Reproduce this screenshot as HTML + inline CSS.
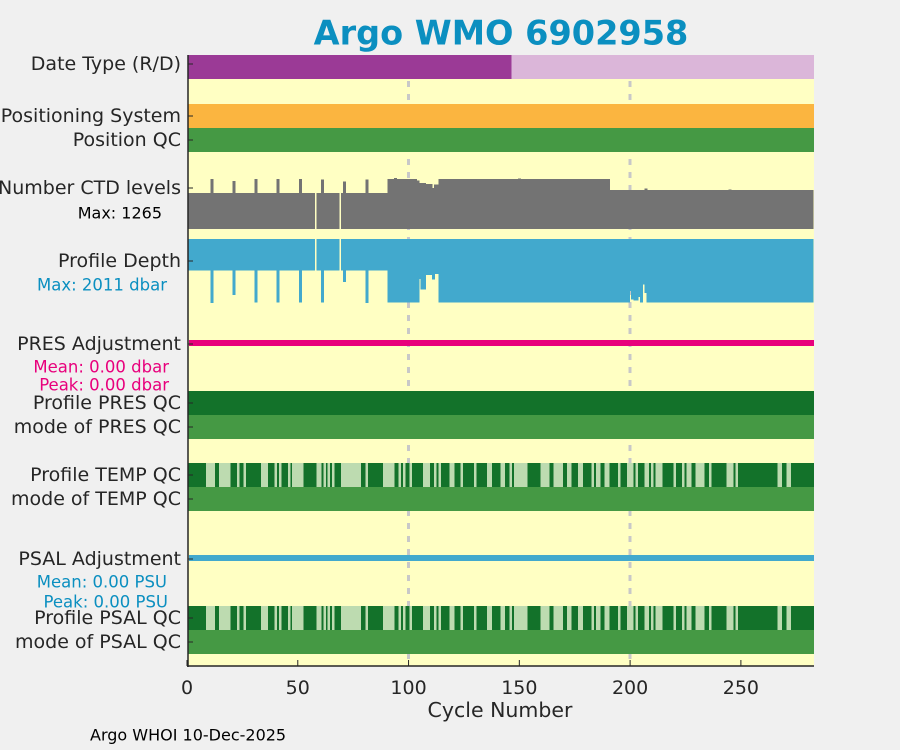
<!DOCTYPE html>
<html><head><meta charset="utf-8"><style>
body{margin:0;background:#f0f0f0;}
svg{display:block;font-family:"DejaVu Sans","Liberation Sans",sans-serif;}
</style></head><body>
<svg id="chart" width="900" height="750">
<rect x="0" y="0" width="900" height="750" fill="#f0f0f0"/>
<rect x="188" y="55" width="626" height="611" fill="#ffffc3"/>
<g id="marks" shape-rendering="crispEdges"></g>
<g id="labels"></g>
</svg>
<script>
const nCycles = 282;
const xTicks = [0, 50, 100, 150, 200, 250];
const dateTypeSwitch = 146.5;
const ctdMax = 1265;
const depthMax = 2011;
const ctdRuns = [[1,57,870],[58,58,0],[59,68,870],[69,69,0],[70,90,870],[91,103,1215],[104,104,1180],[105,107,1120],[108,110,1090],[111,111,1000],[112,113,1080],[114,190,1215],[191,282,950]];
const ctdSpikes = [[11,1216],[21,1170],[31,1216],[41,1216],[51,1216],[61,1210],[71,1150],[81,1210],[94,1240],[150,1230],[207,980],[245,960]];
const depthRuns = [[1,57,985],[58,58,0],[59,68,985],[69,69,0],[70,90,985],[91,104,1990],[105,105,1250],[106,107,1580],[108,110,1130],[111,111,1270],[112,113,1100],[114,199,1990],[200,200,1640],[201,201,1900],[202,203,1930],[204,204,1830],[205,205,1990],[206,206,1430],[207,207,1690],[208,282,1990]];
const depthSpikes = [[11,2011],[21,1760],[31,1990],[41,1990],[51,1990],[61,1990],[71,1350],[81,2011]];
const tempLight = [9,10,11,12,15,16,17,18,19,23,26,34,35,36,40,42,46,48,49,50,51,52,59,60,62,64,66,70,71,72,73,74,75,76,77,78,81,89,90,91,92,93,96,98,101,107,108,109,112,114,119,120,124,130,136,137,142,143,146,148,149,150,151,152,153,160,161,162,163,166,167,168,169,172,173,177,178,183,185,186,189,190,195,199,200,201,203,207,208,210,212,213,214,220,224,226,227,230,231,232,233,236,244,245,246,248,267,268,271,272];
const psalLight = tempLight.slice();

const X0=187, X1=814, C1=283;
function xs(c){return X0+(c)*(X1-X0)/C1;}
const NS='http://www.w3.org/2000/svg';
const marks=document.getElementById('marks');
const labels=document.getElementById('labels');
function rect(g,x,y,w,h,fill,name){const r=document.createElementNS(NS,'rect');r.setAttribute('x',x);r.setAttribute('y',y);r.setAttribute('width',w);r.setAttribute('height',h);r.setAttribute('fill',fill);


g.appendChild(r);return r;}
function line(g,x1,y1,x2,y2,stroke,w,name,dash){const l=document.createElementNS(NS,'line');l.setAttribute('x1',x1);l.setAttribute('y1',y1);l.setAttribute('x2',x2);l.setAttribute('y2',y2);l.setAttribute('stroke',stroke);l.setAttribute('stroke-width',w);if(dash)l.setAttribute('stroke-dasharray',dash);


g.appendChild(l);return l;}
function text(g,x,y,s,size,fill,anchor,name,weight){const t=document.createElementNS(NS,'text');t.setAttribute('x',x);t.setAttribute('y',y);t.setAttribute('font-size',size);t.setAttribute('fill',fill);t.setAttribute('text-anchor',anchor);t.setAttribute('dominant-baseline','central');if(weight)t.setAttribute('font-weight',weight);t.textContent=s;


g.appendChild(t);return t;}

[100,200].forEach(c=>line(marks,xs(c),55,xs(c),666,'#c8c8c8',3,'cycle-gridline','6,7'));

rect(marks,xs(0.5),55,xs(dateTypeSwitch)-xs(0.5),24,'#9b3a96','date-type-realtime');
rect(marks,xs(dateTypeSwitch),55,X1-xs(dateTypeSwitch),24,'#dbb6d9','date-type-delayed');
rect(marks,xs(0.5),104,X1-xs(0.5),24,'#fbb540','positioning-system-bar');
rect(marks,xs(0.5),128,X1-xs(0.5),24,'#459944','position-qc-bar');

const ctdBase=229, ctdH=52;
function ctdBar(c,v){if(v<=0)return;const h=v/ctdMax*ctdH;rect(marks,xs(c-0.5),ctdBase-h,xs(c+0.5)-xs(c-0.5)+0.8,h,'#737373','ctd-levels-bar');}
ctdRuns.forEach(r=>{for(let c=r[0];c<=r[1];c++)ctdBar(c,r[2]);});
ctdSpikes.forEach(s=>ctdBar(s[0],s[1]));

const dTop=239, dH=64;
function dBar(c,v){if(v<=0)return;const h=v/depthMax*dH;rect(marks,xs(c-0.5),dTop,xs(c+0.5)-xs(c-0.5)+0.8,h,'#42a9cd','profile-depth-bar');}
depthRuns.forEach(r=>{for(let c=r[0];c<=r[1];c++)dBar(c,r[2]);});
depthSpikes.forEach(s=>dBar(s[0],s[1]));

line(marks,xs(1),343,X1,343,'#e8007c',6,'pres-adjustment-line');
line(marks,xs(1),558,X1,558,'#42a9cd',6,'psal-adjustment-line');

function qcRow(y,lightArr,name){rect(marks,xs(0.5),y,X1-xs(0.5),24,'#13722a',name);
lightArr.forEach(c=>rect(marks,xs(c-0.5),y,xs(c+0.5)-xs(c-0.5)+0.3,24,'#bddbb0',name+'-flag'));}
rect(marks,xs(0.5),391,X1-xs(0.5),24,'#13722a','profile-pres-qc-bar');
rect(marks,xs(0.5),415,X1-xs(0.5),24,'#459944','mode-pres-qc-bar');
qcRow(463,tempLight,'profile-temp-qc');
rect(marks,xs(0.5),487,X1-xs(0.5),24,'#459944','mode-temp-qc-bar');
qcRow(606,psalLight,'profile-psal-qc');
rect(marks,xs(0.5),630,X1-xs(0.5),24,'#459944','mode-psal-qc-bar');

line(labels,188,55,188,667,'#262626',1.5,'y-axis-line');
line(labels,187,666,814,666,'#262626',1.5,'x-axis-line');
xTicks.forEach(t=>{line(labels,xs(t),666,xs(t),660,'#262626',1,'x-tick');text(labels,xs(t),688,String(t),19,'#262626','middle','x-tick-label');});
text(labels,500,710,'Cycle Number',20.5,'#262626','middle','x-axis-title');
text(labels,501,33,'Argo WMO 6902958',33.5,'#0b8fc0','middle','chart-title','bold');
text(labels,90,735,'Argo WHOI 10-Dec-2025',16,'#000','start','footer-credit');

const rowLabels=[['Date Type (R/D)',64],['Positioning System',116],['Position QC',140],['Number CTD levels',188],['Profile Depth',261],['PRES Adjustment',344],['Profile PRES QC',403],['mode of PRES QC',427],['Profile TEMP QC',475],['mode of TEMP QC',499],['PSAL Adjustment',559],['Profile PSAL QC',618],['mode of PSAL QC',642]];
rowLabels.forEach(r=>{text(labels,181,r[1],r[0],19,'#262626','end','row-label');line(labels,188,r[1],193,r[1],'#262626',1,'y-tick');});
text(labels,162,213,'Max: 1265',16,'#000','end','ctd-max-note');
text(labels,167,285,'Max: 2011 dbar',16.5,'#0b8fc0','end','depth-max-note');
text(labels,169,367,'Mean: 0.00 dbar',16.5,'#e8007c','end','pres-mean-note');
text(labels,169,385,'Peak: 0.00 dbar',16.5,'#e8007c','end','pres-peak-note');
text(labels,167,582,'Mean: 0.00 PSU',16.5,'#0b8fc0','end','psal-mean-note');
text(labels,168,602,'Peak: 0.00 PSU',16.5,'#0b8fc0','end','psal-peak-note');
</script>
</body></html>
